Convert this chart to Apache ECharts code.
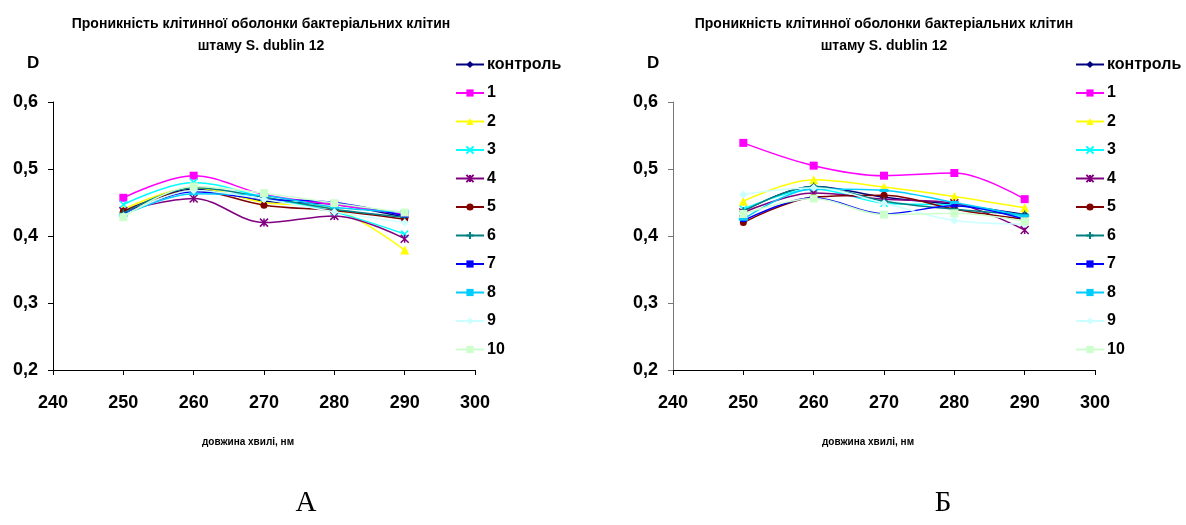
<!DOCTYPE html>
<html><head><meta charset="utf-8">
<script src="https://cdn.jsdelivr.net/npm/echarts@6/dist/echarts.min.js"></script>
<style>html,body{margin:0;padding:0;background:#fff}#c{width:1186px;height:525px}</style>
</head><body><div id="c"></div>
<script>
const wavelengths = [250, 260, 270, 280, 290];
const seriesNames = ['контроль','1','2','3','4','5','6','7','8','9','10'];
const xTicks = [240, 250, 260, 270, 280, 290, 300];
const yTicks = [0.2, 0.3, 0.4, 0.5, 0.6];

// Chart A
const a_control = [0.435, 0.470, 0.452, 0.447, 0.428];
const a_1  = [0.457, 0.490, 0.462, 0.447, 0.432];
const a_2  = [0.440, 0.472, 0.450, 0.440, 0.379];
const a_3  = [0.447, 0.480, 0.458, 0.436, 0.403];
const a_4  = [0.437, 0.456, 0.420, 0.430, 0.396];
const a_5  = [0.437, 0.468, 0.446, 0.438, 0.425];
const a_6  = [0.434, 0.472, 0.458, 0.440, 0.428];
const a_7  = [0.432, 0.466, 0.455, 0.450, 0.430];
const a_8  = [0.431, 0.463, 0.460, 0.443, 0.436];
const a_9  = [0.430, 0.468, 0.455, 0.436, 0.420];
const a_10 = [0.428, 0.474, 0.464, 0.449, 0.435];

// Chart Б
const b_control = [0.437, 0.474, 0.458, 0.447, 0.432];
const b_1  = [0.539, 0.505, 0.490, 0.494, 0.455];
const b_2  = [0.452, 0.484, 0.473, 0.459, 0.442];
const b_3  = [0.440, 0.470, 0.449, 0.446, 0.428];
const b_4  = [0.435, 0.464, 0.455, 0.449, 0.409];
const b_5  = [0.420, 0.458, 0.461, 0.440, 0.425];
const b_6  = [0.437, 0.474, 0.452, 0.440, 0.432];
const b_7  = [0.423, 0.457, 0.433, 0.445, 0.425];
const b_8  = [0.425, 0.470, 0.468, 0.450, 0.430];
const b_9  = [0.462, 0.472, 0.449, 0.423, 0.418];
const b_10 = [0.433, 0.456, 0.432, 0.434, 0.422];

const dataA = [a_control,a_1,a_2,a_3,a_4,a_5,a_6,a_7,a_8,a_9,a_10];
const dataB = [b_control,b_1,b_2,b_3,b_4,b_5,b_6,b_7,b_8,b_9,b_10];

const colors = ['#000080','#FF00FF','#FFFF00','#00FFFF','#800080','#800000','#008080','#0000FF','#00CCFF','#CCFFFF','#CCFFCC'];
const symbols = [
  {s:'diamond', z:8},
  {s:'rect', z:8},
  {s:'triangle', z:9},
  {s:'path://M0,0L10,10M10,0L0,10', z:7},
  {s:'path://M0,0L10,10M10,0L0,10M5,0L5,10', z:8},
  {s:'circle', z:7},
  {s:'path://M5,0L5,10M0,5L10,5', z:8},
  {s:'rect', z:[6,3]},
  {s:'rect', z:[9,3]},
  {s:'diamond', z:8},
  {s:'rect', z:8}
];

const FONT = 'Liberation Sans, Arial, sans-serif';
const grids = [
  {left: 53, top: 102, width: 422, height: 268},
  {left: 673, top: 102, width: 422, height: 268}
];

function xAxis(i){
  return {
    type:'value', gridIndex:i, min:240, max:300, interval:10,
    axisLine:{show:true, lineStyle:{color:'#000', width:1}},
    axisTick:{show:true, length:5, lineStyle:{color:'#000'}},
    splitLine:{show:false},
    axisLabel:{margin:24, fontFamily:FONT, fontWeight:'bold', fontSize:18, color:'#000'},
    name:'довжина хвилі, нм', nameLocation:'middle', nameGap:67,
    nameTextStyle:{fontFamily:FONT, fontWeight:'bold', fontSize:10, color:'#000', padding:[0,32,0,0]}
  };
}
function yAxis(i){
  return {
    type:'value', gridIndex:i, min:0.2, max:0.6, interval:0.1,
    axisLine:{show:true, lineStyle:{color: i===0 ? '#000' : '#777', width:1}},
    axisTick:{show:true, length:5, lineStyle:{color: i===0 ? '#000' : '#777'}},
    splitLine:{show:false},
    axisLabel:{margin:15, fontFamily:FONT, fontWeight:'bold', fontSize:18, color:'#000',
      formatter:v => v.toFixed(1).replace('.', ',')}
  };
}

const series = [];
[dataA, dataB].forEach((set, gi) => {
  set.forEach((vals, k) => {
    series.push({
      type:'line', name:seriesNames[k], xAxisIndex:gi, yAxisIndex:gi,
      smooth:0.35, data: wavelengths.map((w, j) => [w, vals[j]]),
      symbol: symbols[k].s, symbolSize: symbols[k].z,
      lineStyle:{color:colors[k], width:1.5},
      itemStyle:{color:colors[k], borderColor:colors[k], borderWidth: (k===3||k===4||k===6)?1.5:0},
      emphasis:{disabled:true}, animation:false, z: 2 + k
    });
  });
});

function legend(left){
  return {
    orient:'vertical', left:left, top:51, itemWidth:28, itemHeight:9, itemGap:11.5,
    selectedMode:false,
    data: seriesNames,
    textStyle:{fontFamily:FONT, fontWeight:'bold', fontSize:16, color:'#000', lineHeight:17, padding:[0,0,0,-2]}
  };
}

const titleText = 'Проникність клітинної оболонки бактеріальних клітин\nштаму S. dublin 12';
const option = {
  animation:false,
  backgroundColor:'#fff',
  title:[
    {text:titleText, left:256, top:8, textAlign:'center',
     textStyle:{fontFamily:FONT, fontWeight:'bold', fontSize:14, color:'#000', lineHeight:22}},
    {text:titleText, left:879, top:8, textAlign:'center',
     textStyle:{fontFamily:FONT, fontWeight:'bold', fontSize:14, color:'#000', lineHeight:22}},
    {text:'D', left:22, top:50, textStyle:{fontFamily:FONT, fontWeight:'bold', fontSize:17, color:'#000'}},
    {text:'D', left:642, top:50, textStyle:{fontFamily:FONT, fontWeight:'bold', fontSize:17, color:'#000'}},
    {text:'А', left:301, top:484, textAlign:'center', textStyle:{fontFamily:'Liberation Serif, Times New Roman, serif', fontWeight:'normal', fontSize:29, color:'#000'}},
    {text:'Б', left:938, top:484, textAlign:'center', textStyle:{fontFamily:'Liberation Serif, Times New Roman, serif', fontWeight:'normal', fontSize:29, color:'#000'}}
  ],
  grid: grids,
  xAxis:[xAxis(0), xAxis(1)],
  yAxis:[yAxis(0), yAxis(1)],
  legend:[legend(450), legend(1070)],
  series: series
};

const chart = echarts.init(document.getElementById('c'), null, {renderer:'canvas'});
chart.setOption(option);
</script>
</body></html>
